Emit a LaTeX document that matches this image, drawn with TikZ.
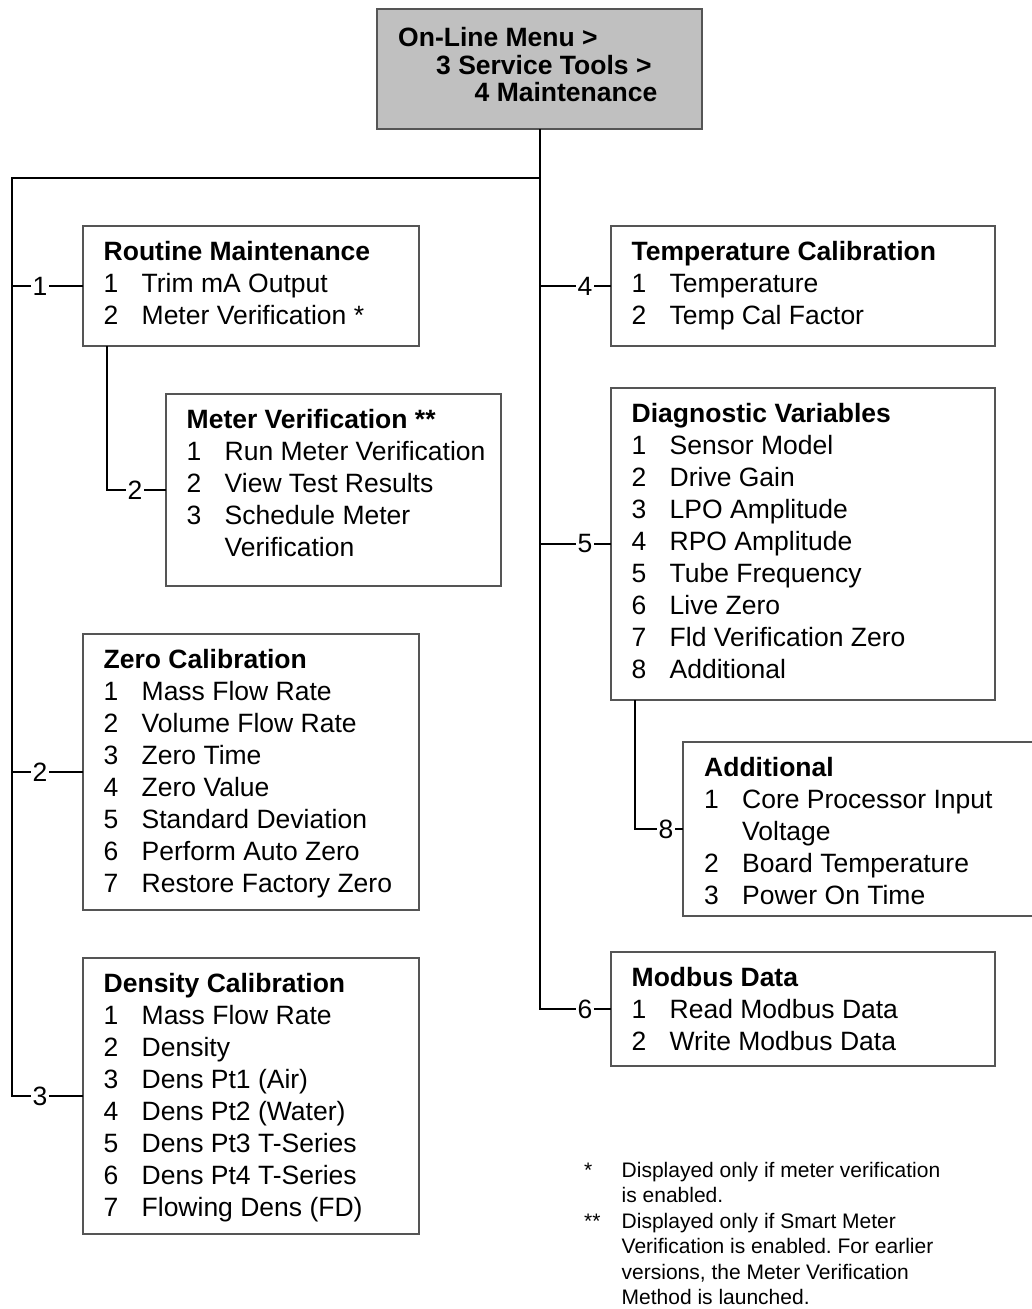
\documentclass[tikz,border=0pt]{standalone}
\usepackage{fontspec}
\setmainfont{Liberation Sans}
\usepackage{array}
\frenchspacing
\definecolor{topgray}{RGB}{192,192,192}
\definecolor{boxline}{RGB}{85,85,85}
\begin{document}
\begin{tikzpicture}[x=1pt,y=-1pt,
  font=\fontsize{26.5}{32}\selectfont,
  menubox/.style={draw=boxline, line width=1.2pt, fill=white, anchor=north west, inner sep=0pt, outer sep=0pt},
  txt/.style={anchor=base west, inner sep=0pt},
  conn/.style={line width=2pt, draw=black},
  lbl/.style={fill=white, inner sep=1.5pt}]
\useasboundingbox (0,0) rectangle (1032,1309);

% boxes
\node[menubox, fill=topgray, minimum width=325pt, minimum height=120pt] (top) at (377,9) {};
\node[menubox, minimum width=336pt, minimum height=120pt] (routine) at (83,226) {};
\node[menubox, minimum width=335pt, minimum height=192pt] (mv) at (166,394) {};
\node[menubox, minimum width=336pt, minimum height=276pt] (zero) at (83,634) {};
\node[menubox, minimum width=336pt, minimum height=276pt] (dens) at (83,958) {};
\node[menubox, minimum width=384pt, minimum height=120pt] (temp) at (611,226) {};
\node[menubox, minimum width=384pt, minimum height=312pt] (diag) at (611,388) {};
\node[menubox, minimum width=367pt, minimum height=174pt] (add) at (683,742) {};
\node[menubox, minimum width=384pt, minimum height=114pt] (modbus) at (611,952) {};

% texts
\node[txt] (topT) at (398,46.5) {\fontsize{26.5}{27.5}\selectfont\bfseries\begin{tabular}[t]{@{}l@{}}On-Line Menu >\\\hspace{38pt}3 Service Tools >\\\hspace{76.5pt}4 Maintenance\end{tabular}};

\node[txt] (routineT) at (103.5,260.5) {\begin{tabular}[t]{@{}p{38pt}@{}l@{}}\multicolumn{2}{@{}l@{}}{\bfseries Routine Maintenance}\\ 1&Trim mA Output\\ 2&Meter Verification *\end{tabular}};

\node[txt] (mvT) at (186.5,428.5) {\begin{tabular}[t]{@{}p{38pt}@{}l@{}}\multicolumn{2}{@{}l@{}}{\bfseries Meter Verification **}\\ 1&Run Meter Verification\\ 2&View Test Results\\ 3&Schedule Meter\\ &Verification\end{tabular}};

\node[txt] (zeroT) at (103.5,668.5) {\begin{tabular}[t]{@{}p{38pt}@{}l@{}}\multicolumn{2}{@{}l@{}}{\bfseries Zero Calibration}\\ 1&Mass Flow Rate\\ 2&Volume Flow Rate\\ 3&Zero Time\\ 4&Zero Value\\ 5&Standard Deviation\\ 6&Perform Auto Zero\\ 7&Restore Factory Zero\end{tabular}};

\node[txt] (densT) at (103.5,992.5) {\begin{tabular}[t]{@{}p{38pt}@{}l@{}}\multicolumn{2}{@{}l@{}}{\bfseries Density Calibration}\\ 1&Mass Flow Rate\\ 2&Density\\ 3&Dens Pt1 (Air)\\ 4&Dens Pt2 (Water)\\ 5&Dens Pt3 T-Series\\ 6&Dens Pt4 T-Series\\ 7&Flowing Dens (FD)\end{tabular}};

\node[txt] (tempT) at (631.5,260.5) {\begin{tabular}[t]{@{}p{38pt}@{}l@{}}\multicolumn{2}{@{}l@{}}{\bfseries Temperature Calibration}\\ 1&Temperature\\ 2&Temp Cal Factor\end{tabular}};

\node[txt] (diagT) at (631.5,422.5) {\begin{tabular}[t]{@{}p{38pt}@{}l@{}}\multicolumn{2}{@{}l@{}}{\bfseries Diagnostic Variables}\\ 1&Sensor Model\\ 2&Drive Gain\\ 3&LPO Amplitude\\ 4&RPO Amplitude\\ 5&Tube Frequency\\ 6&Live Zero\\ 7&Fld Verification Zero\\ 8&Additional\end{tabular}};

\node[txt] (addT) at (704,776.5) {\begin{tabular}[t]{@{}p{38pt}@{}l@{}}\multicolumn{2}{@{}l@{}}{\bfseries Additional}\\ 1&Core Processor Input\\ &Voltage\\ 2&Board Temperature\\ 3&Power On Time\end{tabular}};

\node[txt] (modbusT) at (631.5,986.5) {\begin{tabular}[t]{@{}p{38pt}@{}l@{}}\multicolumn{2}{@{}l@{}}{\bfseries Modbus Data}\\ 1&Read Modbus Data\\ 2&Write Modbus Data\end{tabular}};

\node[txt, font=\fontsize{21}{25.5}\selectfont] (notes) at (584,1177) {\begin{tabular}[t]{@{}p{37.5pt}@{}l@{}}*&Displayed only if meter verification\\ &is enabled.\\ \relax{**}&Displayed only if Smart Meter\\ &Verification is enabled. For earlier\\ &versions, the Meter Verification\\ &Method is launched.\end{tabular}};

% connectors
\coordinate (jt) at (539.5,178);
\coordinate (lt) at (12,178);
\coordinate (rb) at (107,346);
\coordinate (db) at (635,700);

\draw[conn] (top.south) -- (top.south |- modbus.west) -- node[lbl,pos=.636]{6} (modbus.west);
\draw[conn] (jt) -- (lt) -- (lt |- dens.west) -- node[lbl,pos=.394]{3} (dens.west);
\draw[conn] (lt |- routine.west) -- node[lbl,pos=.394]{1} (routine.west);
\draw[conn] (lt |- zero.west) -- node[lbl,pos=.394]{2} (zero.west);
\draw[conn] (jt |- temp.west) -- node[lbl,pos=.636]{4} (temp.west);
\draw[conn] (jt |- diag.west) -- node[lbl,pos=.636]{5} (diag.west);
\draw[conn] (rb) -- (rb |- mv.west) -- node[lbl,pos=.475]{2} (mv.west);
\draw[conn] (db) -- (db |- add.west) -- node[lbl,pos=.646]{8} (add.west);
\end{tikzpicture}
\end{document}
